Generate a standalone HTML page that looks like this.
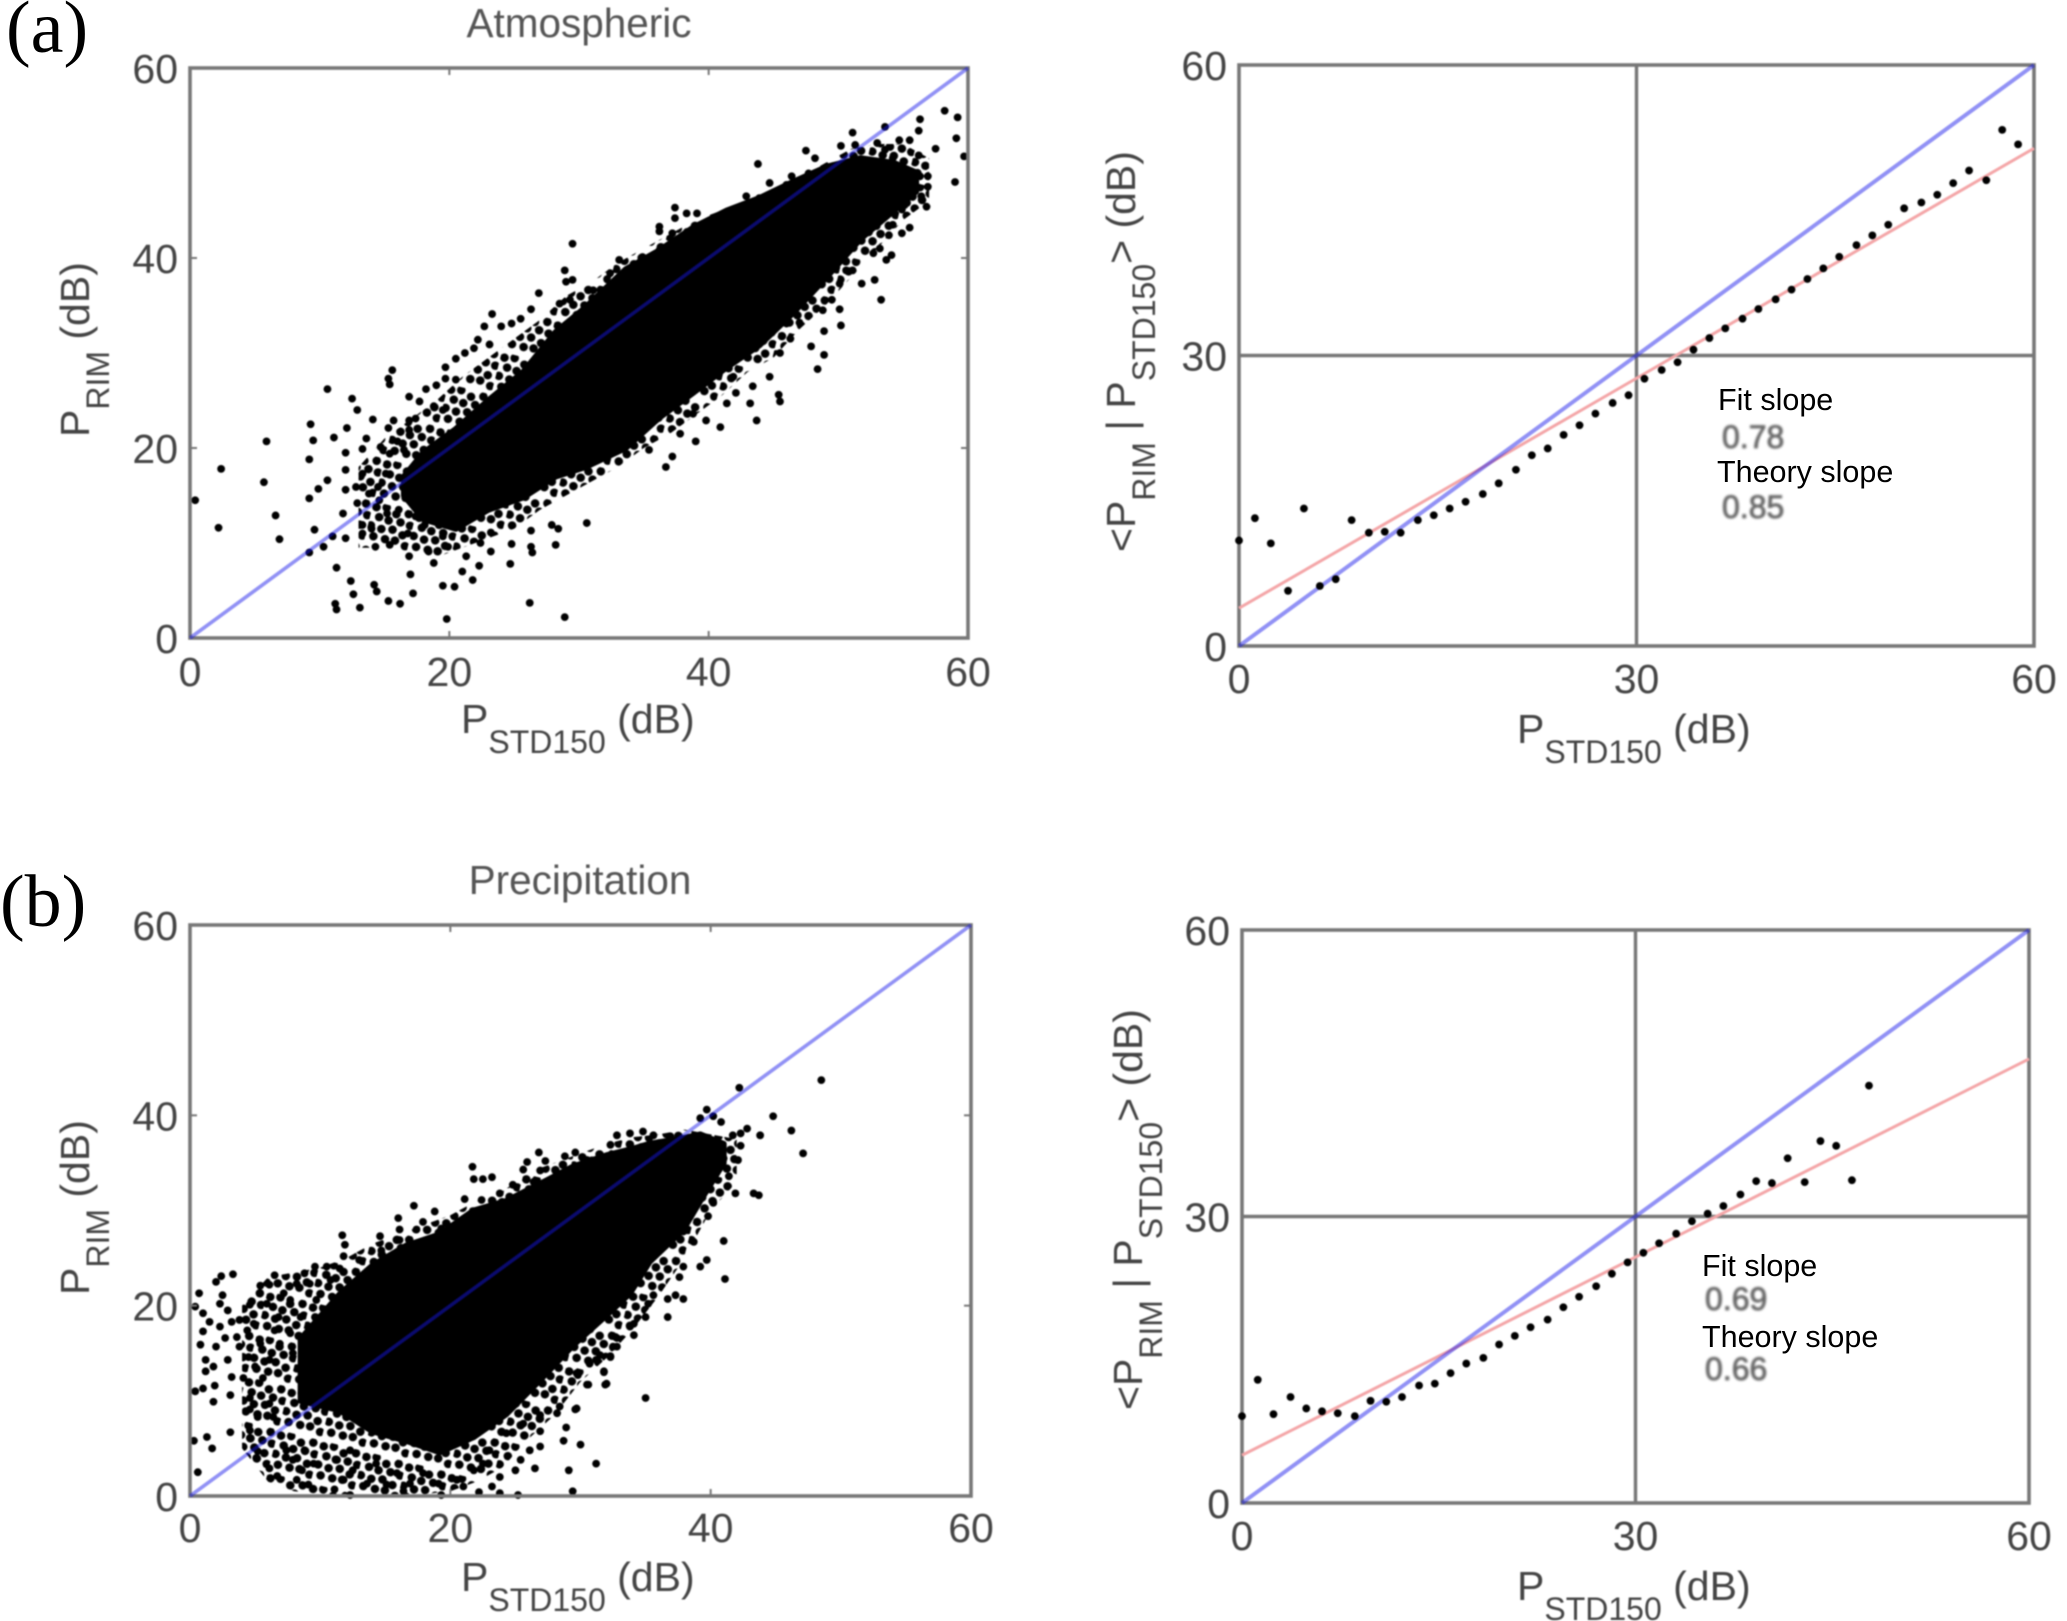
<!DOCTYPE html>
<html lang="en">
<head>
<meta charset="utf-8">
<title>Atmospheric and precipitation scatter comparison</title>
<style>
html,body{margin:0;padding:0;background:#fff;width:2067px;height:1621px;overflow:hidden}
svg{display:block;font-family:"Liberation Sans",sans-serif}
.soft{filter:blur(0.9px)}
.tick-text{font-size:41px;fill:#444}
.axis-text{font-size:41px;fill:#444}
.sub{font-size:32px}
.title-text{font-size:40.5px;fill:#555}
.letter{font-family:"Liberation Serif",serif;font-size:74px;fill:#000}
.note{font-size:30.5px;fill:#000}
.note-val{font-size:32px;fill:#666;stroke:#666;stroke-width:.8px;filter:blur(1.2px)}
</style>
</head>
<body>
<svg id="figure" width="2067" height="1621" viewBox="0 0 2067 1621" xmlns="http://www.w3.org/2000/svg">
  <defs>
    <pattern id="fringe-dots" patternUnits="userSpaceOnUse" width="44" height="44" patternTransform="rotate(14)">
      <circle cx="4" cy="5" r="4.3"/><circle cx="14" cy="3" r="4.3"/><circle cx="25" cy="7" r="4.3"/><circle cx="37" cy="4" r="4.3"/>
      <circle cx="9" cy="14" r="4.3"/><circle cx="19" cy="15" r="4.3"/><circle cx="31" cy="14" r="4.3"/><circle cx="41" cy="15" r="4.3"/>
      <circle cx="3" cy="24" r="4.3"/><circle cx="14" cy="25" r="4.3"/><circle cx="25" cy="23" r="4.3"/><circle cx="36" cy="26" r="4.3"/>
      <circle cx="8" cy="34" r="4.3"/><circle cx="20" cy="34" r="4.3"/><circle cx="30" cy="33" r="4.3"/><circle cx="41" cy="36" r="4.3"/>
    </pattern>
  </defs>
  <rect width="2067" height="1621" fill="#fff"/>
  <text class="letter" x="6" y="52">(a)</text>
  <text class="letter" x="0" y="926">(b)</text>

  <g class="soft">
    <text class="title-text" x="579" y="37" text-anchor="middle">Atmospheric</text>
    <text class="title-text" x="580" y="894" text-anchor="middle">Precipitation</text>
  </g>

  <g class="soft">
    <text class="axis-text" x="461" y="733">P<tspan class="sub" dy="20">STD150</tspan><tspan dy="-20"> (dB)</tspan></text>
    <text class="axis-text" transform="translate(89 437) rotate(-90)">P<tspan class="sub" dy="20">RIM</tspan><tspan dy="-20"> (dB)</tspan></text>
    <text class="axis-text" x="1517" y="743">P<tspan class="sub" dy="20">STD150</tspan><tspan dy="-20"> (dB)</tspan></text>
    <text class="axis-text" transform="translate(1135 552) rotate(-90)">&lt;P<tspan class="sub" dy="20">RIM</tspan><tspan dy="-20"> | P</tspan><tspan class="sub" dy="20">STD150</tspan><tspan dy="-20">&gt; (dB)</tspan></text>
    <text class="axis-text" x="461" y="1591">P<tspan class="sub" dy="20">STD150</tspan><tspan dy="-20"> (dB)</tspan></text>
    <text class="axis-text" transform="translate(89 1295) rotate(-90)">P<tspan class="sub" dy="20">RIM</tspan><tspan dy="-20"> (dB)</tspan></text>
    <text class="axis-text" x="1517" y="1600">P<tspan class="sub" dy="20">STD150</tspan><tspan dy="-20"> (dB)</tspan></text>
    <text class="axis-text" transform="translate(1142 1410) rotate(-90)">&lt;P<tspan class="sub" dy="20">RIM</tspan><tspan dy="-20"> | P</tspan><tspan class="sub" dy="20">STD150</tspan><tspan dy="-20">&gt; (dB)</tspan></text>
  </g>

  <g id="panels"></g>

  <g>
    <text class="note" x="1718" y="410">Fit slope</text>
    <text class="note-val" x="1722" y="448">0.78</text>
    <text class="note" x="1717" y="482">Theory slope</text>
    <text class="note-val" x="1722" y="518">0.85</text>
    <text class="note" x="1702" y="1276">Fit slope</text>
    <text class="note-val" x="1705" y="1310">0.69</text>
    <text class="note" x="1702" y="1347">Theory slope</text>
    <text class="note-val" x="1705" y="1380">0.66</text>
  </g>
</svg>

<script>
// ---- Atmospheric scatter data ----
const atmosCoreX    = [16.5,18,20.5,23,25.7,28.2,30.5,33.6,36.2,38.8,41.4,43.9,46.5,49.1,51.7,54.3,56];
const atmosCoreLow  = [15,12.5,11.5,13.5,14.8,17,18,20,23.2,25.8,28.5,30.8,34.2,38,42,45,47];
const atmosCoreHigh = [17,19.5,22,25,28,32.2,34.8,38.8,40.8,43.2,45,46.3,48,49.6,50.5,50,49];
const atmosFringeX    = [13,15,17,19,21,23,25,27,29,31,33,35,37,39,41,43,45,47,49,51,53,55,57];
const atmosFringeLow  = [9.5,9.5,9,8.5,9.5,10.5,11.5,13.5,15,16.5,18,20,21.5,23.5,25.5,28,29.5,32.5,35,38,41,44,46];
const atmosFringeHigh = [18,21,23,25,27.5,29.5,31.5,33.5,36,37.5,39.5,41,42.5,44,45,46,47,48.5,50,51.5,52,52,50.5];
const atmosPoints = [[0.4,14.5],[2.4,17.8],[2.2,11.6],[5.9,20.7],[5.7,16.4],[6.6,12.9],[6.9,10.4],[9.3,22.5],[9.5,20.8],[9.2,18.8],[11.1,21.1],[12.1,22.1],[10.6,26.2],[12.5,25.2],[12.9,24],[12,19.5],[12,17.7],[10.6,16.6],[9.9,15.7],[9.2,14.7],[9.6,11.4],[10.3,9.6],[9.2,9],[11,10.7],[11.3,7.4],[12.4,6],[12.6,4.6],[11.2,3.6],[11.3,3],[13.1,3.2],[14.2,5.6],[14.4,4.9],[15.3,3.9],[16.2,3.6],[17.2,4.7],[17,6.7],[16.9,8.6],[19.5,5.5],[20.4,5.4],[19.8,2],[26.2,3.7],[28.9,2.2],[21.8,6.1],[21,7],[21.3,8.6],[22.3,7.6],[18.8,7.9],[18.4,9.1],[24.7,7.8],[23.2,9.1],[22.4,10],[23.2,11.1],[24.8,9.9],[26.3,9.6],[26.4,9],[28.2,9.8],[27.9,11.9],[28.4,11.5],[30.6,12.1],[26.3,11.3],[15.4,9.8],[14.3,9.6],[15.6,28.2],[15.3,27.3],[15.4,26.7],[16.9,25.4],[17.7,24.9],[18.2,26.2],[19,26.6],[19.7,27.3],[20.5,27.2],[19.7,28.5],[20.5,29.4],[21.2,30],[22.2,31.4],[21.9,30.5],[23.1,30.9],[22.7,32.8],[23.3,34.1],[24,32.8],[24.8,33.1],[25.5,33.6],[26.3,34.6],[26.9,36.3],[29,37.5],[14.1,23],[15.7,22.9],[15.3,22.1],[16.9,22.9],[17.4,23.1],[18.8,24.4],[19.5,24],[13.6,21],[14.7,20.1],[13.3,19.9],[16,20.7],[16.9,21.9],[16.5,19.8],[15.4,19.4],[13.3,17.3],[12,15.6],[12.8,15.9],[13.8,15.2],[14.5,15.9],[15.1,17.3],[12.9,14.2],[11.8,13.1],[14.6,14.5],[15.2,13.1],[16.1,13.5],[13.3,11.9],[14,11.5],[12,10.5],[13.3,11],[16.8,11],[17.4,12.8],[18.1,11.9],[19.5,10.7],[19.9,9.6],[29.5,41.5],[37.4,45.3],[37.4,44.2],[38.3,44.7],[39.1,44.7],[36.2,43.3],[36.2,42.8],[40.9,44.5],[41.9,44.7],[42.9,46.5],[43.9,46.3],[45.2,46.3],[43.8,49.9],[44.7,47.9],[46.4,48.6],[46,47.7],[47.5,51.3],[47.7,48.9],[48.2,50.5],[49.1,49.6],[50.2,51.8],[51.1,53.2],[51.3,51.9],[53.6,53.8],[53,52.1],[56.3,54.6],[56.2,53.4],[58.2,55.5],[59.2,54.8],[59.1,52.6],[59.7,50.7],[59,48],[57.5,51.5],[54.7,52.4],[55.5,52.4],[56.2,50.8],[53.6,51.4],[54.2,50.5],[56.9,48.6],[56.9,47.5],[56.3,48.6],[55.5,48.2],[56.4,46.5],[56.8,45.4],[54.8,47.5],[55.3,45.8],[54.2,46.5],[54.9,45.1],[55.5,43.2],[54.9,42.6],[54.2,43.5],[53.9,42.4],[53.2,41],[52.7,40.5],[54.1,40.3],[53.7,39.8],[52.8,37.7],[53.3,35.6],[51.8,37.3],[50.6,38.7],[51.1,38.7],[50.1,37.3],[50.1,34.6],[50.2,32.9],[48.8,34.5],[49.5,35.6],[48.9,32.3],[47.9,30.7],[48.9,29.8],[48.4,28.3],[47,33.2],[46,33.1],[46.3,31.5],[45.5,30],[44.7,27.5],[45.4,25.6],[45.5,24.9],[43.4,26.5],[43.2,24.7],[43.7,22.9],[40.9,22.2],[39.8,22.9],[39,20.7],[42.1,25.8],[41.4,24.7],[37.2,19.1],[36.7,18],[35.4,19.8],[33.9,20.8],[37.8,21.5],[38.8,23.6],[40.6,27.9],[41.9,27.5],[33.1,39.8],[32.4,38.4],[31.1,36.6],[34.9,40.1],[36.2,40.8],[28.9,38.7],[29.5,37.7],[29.3,35.6],[28.5,35.2],[37.2,42.6],[39.6,43.3]];

// ---- Atmospheric conditional-mean data ----
const atmosMeanX = [0,1.2,2.4,3.7,4.9,6.1,7.3,8.5,9.8,11,12.2,13.5,14.7,15.9,17.1,18.4,19.6,20.9,22.1,23.3,24.5,25.7,26.9,28.2,29.4,30.6,31.9,33.1,34.3,35.5,36.7,38,39.2,40.5,41.7,42.9,44.1,45.3,46.6,47.8,49,50.2,51.5,52.7,53.9,55.1,56.4,57.6,58.8];
const atmosMeanY = [10.9,13.2,10.6,5.7,14.2,6.2,6.9,13,11.7,11.8,11.7,13,13.5,14.2,14.9,15.7,16.8,18.2,19.7,20.4,21.8,22.8,24,25.1,25.9,27.6,28.5,29.3,30.6,31.8,32.8,33.8,34.8,35.8,36.8,37.9,39,40.2,41.4,42.4,43.5,45.2,45.8,46.6,47.8,49.1,48.1,53.3,51.8];
const atmosFitX = [0,60];
const atmosFitY = [3.9,51.4];

// ---- Precipitation scatter data ----
const precipCoreX    = [8.5,11.5,14,16.6,19.2,21.8,24.3,26.9,29.4,32,33.8,35.3,37.9,39.2,41];
const precipCoreLow  = [10,9,6.8,5.8,4.6,6.2,8.6,12.2,15.8,19,21.3,24.6,28,31,35];
const precipCoreHigh = [16.5,21.2,24.2,26.3,27.5,30,31,32.8,34.6,35.8,36.4,37,37.6,38,37];
const precipFringeX    = [4,6,8,10,12,14,16,18,20,22,24,26,28,30,32,34,36,38,40,42];
const precipFringeLow  = [5,1.5,0.5,0.2,0.2,0.2,0.2,0.2,0.5,1.5,3,6,8.5,12,14.5,17.5,21,25,30,33];
const precipFringeHigh = [20,23,23.5,24,25,26.5,27.5,28.5,29.5,31,32,34,35,36,37,37.7,38,38.5,38,37.5];
const precipPoints = [[3.3,23.3],[2.4,23.1],[2,22.5],[0.7,21.3],[2.5,21.1],[0.4,19.9],[1,19.2],[2.3,20.2],[2.9,19.5],[1.5,18.3],[1,17.3],[2.3,17.8],[3.2,18.3],[3.8,18.5],[0.8,15.9],[2,15.7],[2.7,16.6],[3.6,16.7],[4.4,17.4],[4.9,18.1],[1.2,14.3],[1.8,13.6],[1.2,13.1],[2.9,14.3],[3.8,15.7],[4.5,14.6],[5.4,16],[3.2,12.5],[4.1,12.4],[5.6,12.4],[5,13.6],[6.1,14.3],[0.4,11],[1,11.3],[1.9,11.6],[3.1,10.6],[1.8,9.9],[4.6,10.3],[4.6,9.1],[5.2,8.3],[6.1,9.7],[6.4,8.3],[3.1,6.7],[1.3,6.2],[0.3,5.8],[1.7,5],[4.6,6.9],[4.6,6.1],[5.2,4.7],[5.1,4],[0.6,2.5],[6.1,2.9],[6.7,2.1],[8.2,1.7],[9.1,1.2],[8.6,2.7],[7.4,4.8],[7.9,3.8],[8.8,4.8],[9.5,3.4],[11.1,0.7],[12.3,0.1],[11.8,1.7],[12.5,2.7],[11.3,3.8],[12.3,4.8],[13.6,1.3],[15.1,1.2],[16.4,0.5],[16.9,1.3],[15.9,2.4],[14.3,3.4],[17.9,2.4],[19.3,0.1],[19.1,1.3],[20.5,1.7],[21,1],[22.2,0.4],[23.2,1],[23.8,0.3],[25.2,0.1],[21.8,2.7],[22.5,3.4],[23.8,2],[25,2.7],[26.5,2.9],[29.1,2.7],[29.4,0.5],[31.2,3.4],[30,5.4],[28.7,5.8],[28.9,7.2],[26.9,5.2],[26.9,6.8],[25.4,3.8],[26.1,4.8],[29.7,9.2],[31.9,11.7],[31.8,13.1],[30.6,11.7],[29.8,12.7],[28.2,8.7],[26.9,8.5],[25.6,7.6],[24.3,6.6],[23,4.8],[32.3,14.6],[32.8,16.6],[32.5,15.7],[31.2,14.3],[33.8,17.8],[21.7,34.6],[21.8,33.3],[22.5,33.3],[23.2,33.5],[21.1,31.2],[17.2,30.5],[18.8,29.9],[16,29.2],[17.9,28.8],[17.4,28],[19.3,28.1],[16.1,28],[16.1,26.9],[14.6,27.3],[11.7,27.4],[11.9,26.4],[11.8,25.2],[13,24.8],[14.7,25.8],[9.6,24.1],[8.8,23.4],[10.5,24.1],[11.5,23.9],[6.5,23.2],[5.4,22.1],[6.1,22.2],[8.2,22.3],[7.2,21.3],[9.2,22.3],[10.8,22.7],[4.6,20.1],[5.9,20.2],[7.7,20.6],[6.8,18.8],[8.5,18.8],[9.7,20.6],[9.6,18.8],[10.5,18.1],[7.7,17.1],[6.5,17.4],[7.9,15],[6.9,16],[25.6,34.3],[25.9,35.1],[26.8,36.1],[27.3,35.2],[26.9,34.2],[28.8,35.7],[29.6,36.1],[30.5,35.3],[32.8,37.9],[24.8,32.7],[23.8,31.8],[22.4,31.1],[28.2,33.9],[26.4,33],[48.5,43.7],[42.2,42.9],[39.7,40.6],[39.2,39.7],[40.2,39.9],[40.8,39.3],[44.8,39.9],[46.2,38.4],[47.1,36],[42.8,38.6],[42.3,38.1],[41.7,37.9],[43.8,37.9],[42.3,36.8],[42.1,35.3],[41.4,33.6],[41.9,31.8],[43.7,31.6],[43.3,31.8],[40.2,30.8],[39.8,29.4],[41,26.8],[41.1,22.8],[39.7,24.8],[39.2,24.1],[37.9,24.1],[37.6,23],[38.7,26.7],[37.9,27.8],[37.3,21.1],[37.9,20.7],[36.7,20.7],[35.6,21.1],[35.2,20.2],[36.7,18.8],[35,18.8],[34.1,18.1],[34.1,16.9],[32.7,16.7],[32.8,15.7],[32.3,14.7],[31.8,13],[32,11.8],[35,10.3],[29.6,9.1],[30.5,11.7],[29.7,12.9],[31.5,14.8],[30.7,13.9],[28.4,9.4],[33.8,38.1],[34.8,38.3],[35.6,37.9],[36.9,37.8],[32.3,36.9]];

// ---- Precipitation conditional-mean data ----
const precipMeanX = [0,1.2,2.4,3.7,4.9,6.1,7.3,8.6,9.8,11,12.2,13.5,14.7,15.9,17.1,18.4,19.6,20.8,22,23.3,24.5,25.7,27,28.2,29.4,30.6,31.8,33.1,34.3,35.5,36.7,38,39.2,40.4,41.6,42.9,44.1,45.3,46.5,47.8];
const precipMeanY = [9.1,12.9,9.3,11.1,9.9,9.6,9.4,9.1,10.7,10.6,11.1,12.3,12.5,13.6,14.6,15.2,16.6,17.5,18.4,19.2,20.5,21.6,22.7,24,25.2,26.2,27.2,28.2,29.5,30.3,31.1,32.3,33.7,33.5,36.1,33.6,37.9,37.4,33.8,43.7];
const precipFitX = [0,60];
const precipFitY = [5,46.5];

// ---- Shared axis data ----
const scatterTicks = [0,20,40,60];
const meanTicks = [0,30,60];
const axisMax = [60];
const unityLine = [0,60];

const SVG_NS = 'http://www.w3.org/2000/svg';
const panelsRoot = document.getElementById('panels');

function makeEl(tag, attrs, parent) {
  const el = document.createElementNS(SVG_NS, tag);
  for (const k in attrs) el.setAttribute(k, attrs[k]);
  parent.appendChild(el);
  return el;
}

function makeAxes(box) {
  return {
    sx: v => box.left + (v / axisMax[0]) * (box.right - box.left),
    sy: v => box.bottom - (v / axisMax[0]) * (box.bottom - box.top)
  };
}

function bandPoints(ax, xs, lows, highs) {
  const upper = xs.map((x, i) => ax.sx(x) + ',' + ax.sy(highs[i]));
  const lower = xs.map((x, i) => ax.sx(x) + ',' + ax.sy(lows[i])).reverse();
  return upper.concat(lower).join(' ');
}

function drawFrame(g, box, ax, ticks, labelRight, xBaseline, crosshair) {
  const frame = makeEl('rect', {x: box.left, y: box.top, width: box.right - box.left, height: box.bottom - box.top, fill: 'none', stroke: '#777', 'stroke-width': 3.6}, g);
  
  
  ticks.forEach(t => {
    const xl = makeEl('text', {x: ax.sx(t), y: xBaseline, 'text-anchor': 'middle', class: 'tick-text'}, g);
    xl.textContent = t;
    
    
    const yl = makeEl('text', {x: labelRight, y: ax.sy(t) + 15, 'text-anchor': 'end', class: 'tick-text'}, g);
    yl.textContent = t;
    
    
    if (t > 0 && t < axisMax[0]) {
      if (crosshair) {
        const v = makeEl('line', {x1: ax.sx(t), x2: ax.sx(t), y1: box.top, y2: box.bottom, stroke: '#777', 'stroke-width': 3.4}, g);
        
        
        const h = makeEl('line', {x1: box.left, x2: box.right, y1: ax.sy(t), y2: ax.sy(t), stroke: '#777', 'stroke-width': 3.4}, g);
        
        
      } else {
        [[ax.sx(t), box.bottom, ax.sx(t), box.bottom - 7], [ax.sx(t), box.top, ax.sx(t), box.top + 7], [box.left, ax.sy(t), box.left + 7, ax.sy(t)], [box.right, ax.sy(t), box.right - 7, ax.sy(t)]].forEach(c => {
          const m = makeEl('line', {x1: c[0], y1: c[1], x2: c[2], y2: c[3], stroke: '#777', 'stroke-width': 2}, g);
          
          
        });
      }
    }
  });
}

function drawUnity(g, ax, width) {
  const l = makeEl('line', {x1: ax.sx(unityLine[0]), y1: ax.sy(unityLine[0]), x2: ax.sx(unityLine[1]), y2: ax.sy(unityLine[1]), stroke: 'rgb(21,21,234)', 'stroke-opacity': 0.47, 'stroke-width': width}, g);
  
  
}

function scatterPanel(name, box, fringeX, fringeLow, fringeHigh, coreX, coreLow, coreHigh, points, labelRight, xBaseline) {
  const ax = makeAxes(box);
  const g = makeEl('g', {class: 'soft'}, panelsRoot);
  
  
  const fringe = makeEl('polygon', {points: bandPoints(ax, fringeX, fringeLow, fringeHigh), fill: 'url(#fringe-dots)'}, g);
  
  
  const core = makeEl('polygon', {points: bandPoints(ax, coreX, coreLow, coreHigh), fill: '#000', stroke: '#000', 'stroke-width': 6, 'stroke-linejoin': 'round'}, g);
  
  
  points.forEach(p => {
    const c = makeEl('circle', {cx: ax.sx(p[0]), cy: ax.sy(p[1]), r: 3.9, fill: '#000'}, g);
    
    
  });
  drawFrame(g, box, ax, scatterTicks, labelRight, xBaseline, false);
  drawUnity(g, ax, 3.6);
}

function meanPanel(name, box, meanX, meanY, fitX, fitY, labelRight, xBaseline) {
  const ax = makeAxes(box);
  const g = makeEl('g', {class: 'soft'}, panelsRoot);
  
  
  drawFrame(g, box, ax, meanTicks, labelRight, xBaseline, true);
  const fit = makeEl('line', {x1: ax.sx(fitX[0]), y1: ax.sy(fitY[0]), x2: ax.sx(fitX[1]), y2: ax.sy(fitY[1]), stroke: '#f4a6a8', 'stroke-width': 3}, g);
  
  
  drawUnity(g, ax, 4);
  meanX.forEach((x, i) => {
    const c = makeEl('circle', {cx: ax.sx(x), cy: ax.sy(meanY[i]), r: 3.9, fill: '#000'}, g);
    
    
  });
}

scatterPanel('atmospheric-scatter-plot', {left: 190, right: 968, top: 68, bottom: 638}, atmosFringeX, atmosFringeLow, atmosFringeHigh, atmosCoreX, atmosCoreLow, atmosCoreHigh, atmosPoints, 178, 686);
meanPanel('atmospheric-mean-plot', {left: 1239, right: 2034, top: 65, bottom: 646}, atmosMeanX, atmosMeanY, atmosFitX, atmosFitY, 1227, 693);
scatterPanel('precipitation-scatter-plot', {left: 190, right: 971, top: 925, bottom: 1496}, precipFringeX, precipFringeLow, precipFringeHigh, precipCoreX, precipCoreLow, precipCoreHigh, precipPoints, 178, 1542);
meanPanel('precipitation-mean-plot', {left: 1242, right: 2029, top: 930, bottom: 1503}, precipMeanX, precipMeanY, precipFitX, precipFitY, 1230, 1550);
</script>
</body>
</html>
